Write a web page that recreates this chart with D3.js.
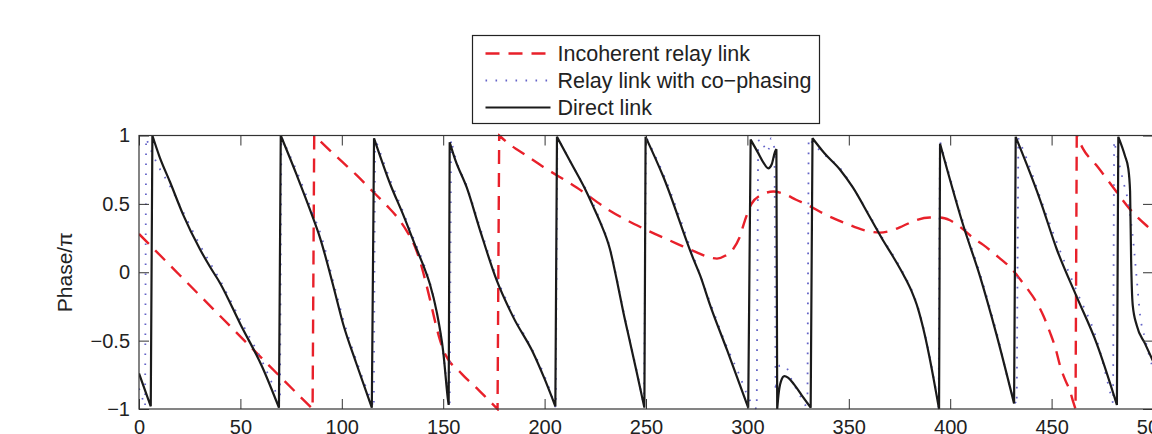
<!DOCTYPE html>
<html>
<head>
<meta charset="utf-8">
<script src="https://cdn.jsdelivr.net/npm/d3@7"></script>
<style>
  html, body { margin: 0; padding: 0; background: #fff; }
  svg { display: block; font-family: "Liberation Sans", Arial, sans-serif; }
</style>
</head>
<body>
<div id="container"></div>
<script>
"use strict";

const xTicks = [0, 50, 100, 150, 200, 250, 300, 350, 400, 450, 500];
const yTicks = [-1, -0.5, 0, 0.5, 1];
const yTickLabels = ["\u22121", "\u22120.5", "0", "0.5", "1"];
const legendLabels = ["Incoherent relay link", "Relay link with co\u2212phasing", "Direct link"];

// incoherent relay link (red dashed)
const incoherent = [
  [0, 0.28], [20, -0.02], [40, -0.32], [60, -0.62], [77.8, -0.885], [85.6, -1],
  [86.4, 1], [94.2, 0.89], [100, 0.81], [107.3, 0.71], [114, 0.61], [122, 0.49], [128, 0.39],
  [132.5, 0.29], [136, 0.19], [138.6, 0.08], [141, -0.05], [143.5, -0.2], [146, -0.36],
  [148.5, -0.5], [151, -0.6], [153.5, -0.66], [157, -0.71], [161.6, -0.78], [166, -0.84],
  [171.4, -0.92], [176.8, -1],
  [177.6, 1], [184.6, 0.915], [186.2, 0.9], [199.4, 0.77], [215.8, 0.62], [232.2, 0.45],
  [248.7, 0.32], [265.1, 0.21], [275.8, 0.14], [281, 0.11], [285, 0.1], [289, 0.12],
  [293, 0.17], [296, 0.25], [298.8, 0.38], [302, 0.5], [306.2, 0.56], [312.8, 0.59],
  [318.5, 0.57], [324, 0.53], [330, 0.49], [337.4, 0.43], [348.9, 0.355], [357, 0.31],
  [365.4, 0.29], [370, 0.3], [376.9, 0.34], [383, 0.38], [390, 0.4], [395, 0.4], [399.9, 0.38],
  [405, 0.33], [411.4, 0.25], [416.3, 0.2], [424.6, 0.1], [430, 0.03], [434.4, -0.05],
  [438, -0.12], [442.6, -0.22], [446, -0.32], [449.2, -0.44], [452, -0.56], [454.1, -0.68],
  [456.5, -0.78], [459.1, -0.87], [460.7, -0.95], [461.8, -1],
  [462.4, 1], [465.6, 0.9], [472.2, 0.78], [480.4, 0.62], [488.7, 0.46], [496.9, 0.34], [500, 0.3]
];

// relay link with co-phasing (blue dotted)
const coPhasing = [
  [0, -0.85], [3, -0.98], [3.5, 0.98], [8.7, 0.8], [15.3, 0.63], [21.8, 0.44], [30, 0.2],
  [40, -0.06], [50, -0.35], [61, -0.66], [69.5, -0.95], [70.2, 0.99],
  [78, 0.73], [86, 0.42], [90, 0.26], [95.8, -0.07], [101, -0.36], [108, -0.68], [115.8, -0.99],
  [116.4, 0.98], [124, 0.67], [130, 0.45], [136.9, 0.19], [140.2, 0.07], [143.5, -0.08],
  [146.8, -0.29], [150, -0.6], [153.2, -0.99],
  [153.9, 0.97], [156, 0.84], [161.6, 0.63], [168.1, 0.33], [176.4, -0.04], [184.6, -0.31],
  [194.4, -0.58], [200, -0.76], [205.5, -0.99],
  [206.3, 0.99], [213, 0.8], [219.9, 0.62], [224, 0.5], [227.3, 0.38], [232.2, 0.18],
  [235.5, -0.04], [238.8, -0.28], [242.1, -0.5], [245.4, -0.72], [249, -0.98],
  [250, 0.99], [258.5, 0.72], [273.3, 0.12], [281.6, -0.22], [290, -0.55], [296, -0.75],
  [300, -0.9], [302.5, -0.97], [304.6, -1],
  [305.3, 0.96], [306.5, 0.97], [308, 0.93], [309.5, 0.88], [310.5, 0.9], [311.7, 0.98],
  [313.4, 0.9], [313.9, -0.87], [315, -0.72], [316.1, -0.68], [319.4, -0.7], [321, -0.76],
  [324, -0.85], [327, -0.93], [329.6, -1],
  [330.2, 0.98], [332.5, 0.94], [338, 0.86], [345.7, 0.76], [352, 0.62], [360.5, 0.41],
  [367, 0.24], [372, 0.12], [377, -0.01], [381, -0.13], [384, -0.25], [386.7, -0.4],
  [389.5, -0.59], [391.7, -0.76], [393.3, -0.89], [394.3, -0.99],
  [394.9, 0.96], [406.5, 0.36], [414.7, -0.01], [422.9, -0.44], [431.5, -0.93],
  [432.8, -0.97], [433.6, 0.98], [437.7, 0.83], [444.3, 0.55], [452.5, 0.22], [462.4, -0.14],
  [472.2, -0.49], [479.6, -0.92], [480.3, -0.96],
  [480.8, 0.96], [485.4, 0.66], [487.8, 0.51], [490.3, 0.22], [492, -0.05], [493.6, -0.31],
  [496, -0.48], [498.5, -0.63], [500, -0.7]
];

// direct link (black solid)
const direct = [
  [0, -0.74], [5.8, -0.98], [6.6, 1], [10, 0.85], [15.3, 0.66], [21.8, 0.42], [30, 0.17],
  [35, 0.04], [40, -0.08], [50, -0.38], [61, -0.7], [69, -0.99],
  [69.9, 1], [77.8, 0.71], [86, 0.39], [89.3, 0.25], [95.8, -0.1], [100.7, -0.38],
  [107, -0.66], [114.8, -0.99],
  [115.9, 0.98], [124, 0.64], [130, 0.43], [136.9, 0.17], [140.2, 0.05], [143.5, -0.09],
  [146.8, -0.29], [150, -0.58], [152.5, -0.95], [152.7, -0.97],
  [153.2, 0.95], [156, 0.82], [161.6, 0.62], [168.1, 0.31], [176.4, -0.06], [184.6, -0.33],
  [194.4, -0.59], [200, -0.78], [205.3, -0.98],
  [206.1, 0.99], [213, 0.8], [219.9, 0.61], [224, 0.48], [227.3, 0.37], [232.2, 0.17],
  [235.5, -0.05], [238.8, -0.29], [242.1, -0.51], [245.4, -0.73], [249.2, -0.99],
  [249.8, 0.99], [258.5, 0.7], [273.3, 0.1], [276.6, -0.02], [281.6, -0.24], [290, -0.57],
  [300.4, -0.99],
  [301.6, 0.97], [305, 0.88], [308, 0.8], [310.3, 0.76], [312, 0.79],
  [313.6, 0.88], [314.3, 0.9], [314.7, -1], [315.3, -0.9], [316.5, -0.8], [318.2, -0.76],
  [320, -0.77], [323, -0.82], [326.8, -0.9], [331.2, -0.99],
  [332.1, 0.98], [338, 0.87], [345.7, 0.75], [352, 0.62], [360.5, 0.4], [367, 0.23],
  [372, 0.11], [377, -0.02], [381, -0.14], [384, -0.26], [386.7, -0.41], [389.5, -0.6],
  [391.7, -0.77], [393.3, -0.9], [394.5, -1],
  [395, 0.94], [406.5, 0.34], [414.7, -0.03], [422.9, -0.46], [431.5, -0.96],
  [432.3, 0.99], [437.7, 0.79], [444.3, 0.53], [452.5, 0.17], [462.4, -0.18], [472.2, -0.52],
  [482.2, -0.97],
  [482.9, 0.99], [486.2, 0.85], [487.8, 0.76], [488.7, 0.59], [489.2, 0.1], [490, -0.24],
  [492, -0.39], [496, -0.52], [500, -0.65]
];

const width = 1152;
const height = 434;
const plot = { left: 139, right: 1153, top: 135.5, bottom: 409 };

const styles = [
  { color: "#e8202a", width: 2.4, dash: "14,9" },
  { color: "#6464c8", width: 1.8, dash: "1.6,8.4" },
  { color: "#1a1a1a", width: 2.2, dash: null }
];

// cut a series where the phase wraps, so each piece can be smoothed on its own
const splitAtJumps = (data) => {
  const parts = [[data[0]]];
  for (let i = 1; i < data.length; i++) {
    if (Math.abs(data[i][1] - data[i - 1][1]) > 1) parts.push([]);
    parts[parts.length - 1].push(data[i]);
  }
  return parts;
};

const renderChart = () => {
  const svg = d3.select("#container")
    .append("svg")
    .attr("width", width)
    .attr("height", height);

  const x = d3.scaleLinear().domain([0, 500]).range([plot.left, plot.right]);
  const y = d3.scaleLinear().domain([-1, 1]).range([plot.bottom, plot.top]);

  svg.append("clipPath").attr("id", "plotclip")
    .append("rect")
    .attr("x", plot.left)
    .attr("y", plot.top - 2)
    .attr("width", plot.right - plot.left)
    .attr("height", plot.bottom - plot.top + 4);

  const line = d3.line()
    .x((d) => x(d[0]))
    .y((d) => y(d[1]))
    .curve(d3.curveMonotoneX);

  // join the smooth pieces with straight jumps in one path, so dashes run on
  const pathFor = (data) => splitAtJumps(data)
    .map((p, k) => {
      const d = line(p).replace("Z", "");
      return k === 0 ? d : "L" + d.slice(1);
    })
    .join("");

  const series = [incoherent, coPhasing, direct];
  const g = svg.append("g").attr("clip-path", "url(#plotclip)");
  series.forEach((data, i) => {
    g.append("path")
      .attr("d", pathFor(data))
      .attr("fill", "none")
      .attr("stroke", styles[i].color)
      .attr("stroke-width", styles[i].width)
      .attr("stroke-linejoin", "miter")
      .attr("stroke-miterlimit", 3)
      .attr("stroke-dasharray", styles[i].dash);
  });

  // axes, ticks pointing inward
  const fontSize = 20;
  const bottomAxis = svg.append("g")
    .attr("transform", `translate(0,${plot.bottom})`)
    .call(d3.axisBottom(x).tickValues(xTicks).tickSizeInner(-10).tickSizeOuter(0).tickPadding(11));
  const topAxis = svg.append("g")
    .attr("transform", `translate(0,${plot.top})`)
    .call(d3.axisTop(x).tickValues(xTicks).tickSizeInner(-10).tickSizeOuter(0).tickFormat(""));
  const leftAxis = svg.append("g")
    .attr("transform", `translate(${plot.left},0)`)
    .call(d3.axisLeft(y).tickValues(yTicks).tickSizeInner(-10).tickSizeOuter(0).tickPadding(9)
      .tickFormat((d, i) => yTickLabels[i]));
  const rightAxis = svg.append("g")
    .attr("transform", `translate(${plot.right},0)`)
    .call(d3.axisRight(y).tickValues(yTicks).tickSizeInner(-10).tickSizeOuter(0).tickFormat(""));

  [bottomAxis, topAxis, leftAxis, rightAxis].forEach((a) => {
    a.select(".domain").remove();
    a.selectAll(".tick line").attr("stroke", "#333").attr("stroke-width", 1);
    a.selectAll("text")
      .attr("fill", "#222")
      .style("font-size", fontSize + "px")
      .style("font-family", "\"Liberation Sans\", Arial, sans-serif");
  });

  svg.append("rect")
    .attr("x", plot.left)
    .attr("y", plot.top)
    .attr("width", plot.right - plot.left)
    .attr("height", plot.bottom - plot.top)
    .attr("fill", "none")
    .attr("stroke", "#333")
    .attr("stroke-width", 1.2);

  svg.append("text")
    .attr("transform", `translate(72,${(plot.top + plot.bottom) / 2}) rotate(-90)`)
    .attr("text-anchor", "middle")
    .attr("fill", "#222")
    .style("font-size", "21px")
    .text("Phase/\u03c0");

  // legend
  const legend = svg.append("g").attr("transform", "translate(472.5,35.5)");
  legend.append("rect")
    .attr("width", 347)
    .attr("height", 88)
    .attr("fill", "#fff")
    .attr("stroke", "#222")
    .attr("stroke-width", 1.2);

  legendLabels.forEach((label, i) => {
    const row = 18 + i * 27;
    legend.append("line")
      .attr("x1", 13)
      .attr("x2", 78)
      .attr("y1", row)
      .attr("y2", row)
      .attr("stroke", styles[i].color)
      .attr("stroke-width", styles[i].width)
      .attr("stroke-dasharray", styles[i].dash);
    legend.append("text")
      .attr("x", 85)
      .attr("y", row + 7.5)
      .attr("fill", "#222")
      .style("font-size", "21.5px")
      .text(label);
  });
};

window.onload = renderChart;
</script>
</body>
</html>
